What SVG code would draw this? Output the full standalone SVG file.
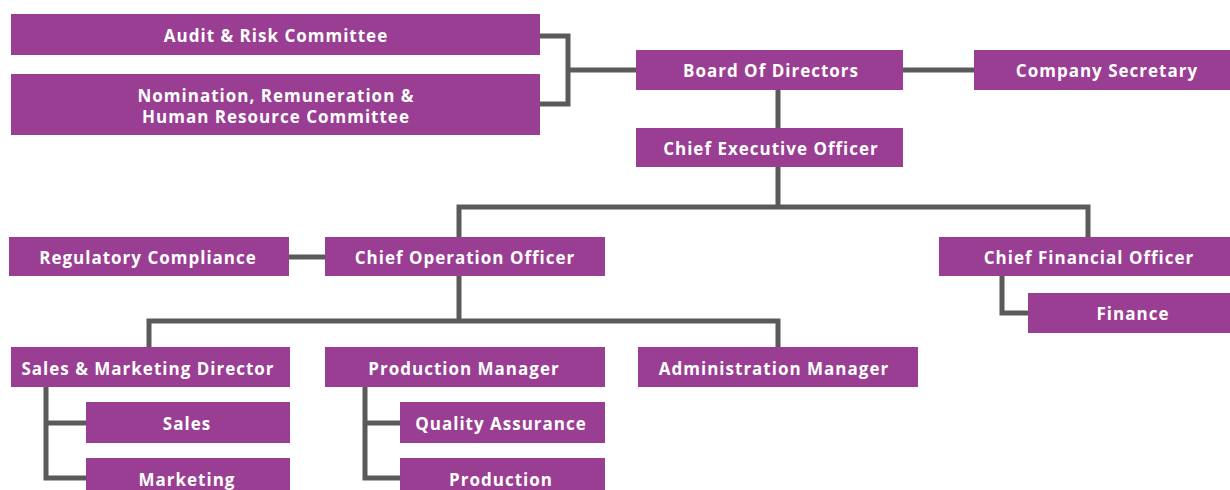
<svg xmlns="http://www.w3.org/2000/svg" width="1230" height="490" viewBox="0 0 1230 490">
<style>
.box{fill:#993e93}
.t{font-family:"Open Sans","Liberation Sans",sans-serif;font-weight:700;font-size:17px;letter-spacing:1px;fill:#ffffff;text-anchor:middle;dominant-baseline:central}
.c{fill:none;stroke:#5a5a5a;stroke-width:5}
</style>
<rect width="1230" height="490" fill="#ffffff"/>
<g id="connectors">
<path class="c" d="M540 36H568V104H540M568 70H636"/>
<path class="c" d="M903 70H974"/>
<path class="c" d="M778 90V128M778 167V207M459 237V207H1088V237"/>
<path class="c" d="M289 257H325"/>
<path class="c" d="M1002 276V313H1028"/>
<path class="c" d="M459 276V321M149 347V321H778V347"/>
<path class="c" d="M46 387V478H86M46 423H86"/>
<path class="c" d="M365 387V478H400M365 423H400"/>
</g>
<g id="audit"><rect class="box" x="11" y="14" width="529" height="41"/><text class="t" x="276" y="35">Audit &amp; Risk Committee</text></g>
<g id="nomination"><rect class="box" x="11" y="74" width="529" height="61"/><text class="t" x="276" y="95">Nomination, Remuneration &amp;</text><text class="t" x="276" y="116">Human Resource Committee</text></g>
<g id="board"><rect class="box" x="636" y="50" width="267" height="40"/><text class="t" x="771" y="70">Board Of Directors</text></g>
<g id="secretary"><rect class="box" x="974" y="50" width="256" height="40"/><text class="t" x="1107" y="70">Company Secretary</text></g>
<g id="ceo"><rect class="box" x="636" y="128" width="267" height="39"/><text class="t" x="771" y="148">Chief Executive Officer</text></g>
<g id="regulatory"><rect class="box" x="9" y="237" width="280" height="39"/><text class="t" x="148" y="257">Regulatory Compliance</text></g>
<g id="coo"><rect class="box" x="325" y="237" width="280" height="39"/><text class="t" x="465" y="257">Chief Operation Officer</text></g>
<g id="cfo"><rect class="box" x="939" y="237" width="291" height="39"/><text class="t" x="1089" y="257">Chief Financial Officer</text></g>
<g id="finance"><rect class="box" x="1028" y="293" width="202" height="40"/><text class="t" x="1133" y="313">Finance</text></g>
<g id="salesdir"><rect class="box" x="11" y="347" width="279" height="40"/><text class="t" x="148" y="368">Sales &amp; Marketing Director</text></g>
<g id="prodmgr"><rect class="box" x="325" y="347" width="280" height="40"/><text class="t" x="464" y="368">Production Manager</text></g>
<g id="adminmgr"><rect class="box" x="638" y="347" width="280" height="40"/><text class="t" x="774" y="368">Administration Manager</text></g>
<g id="sales"><rect class="box" x="86" y="402" width="204" height="41"/><text class="t" x="187" y="423">Sales</text></g>
<g id="marketing"><rect class="box" x="86" y="458" width="204" height="40"/><text class="t" x="187" y="479">Marketing</text></g>
<g id="qa"><rect class="box" x="400" y="402" width="205" height="41"/><text class="t" x="501" y="423">Quality Assurance</text></g>
<g id="production"><rect class="box" x="400" y="458" width="205" height="40"/><text class="t" x="501" y="479">Production</text></g>
</svg>
